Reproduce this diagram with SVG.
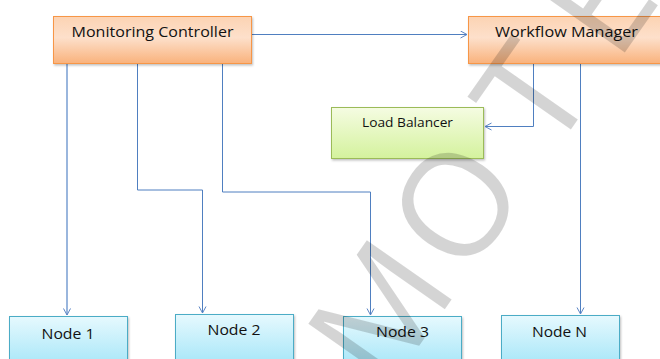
<svg xmlns="http://www.w3.org/2000/svg" width="660" height="359" viewBox="0 0 660 359">
  <defs>
    <linearGradient id="gOrange" x1="0" y1="0" x2="0" y2="1">
      <stop offset="0" stop-color="#fcd3b3"/>
      <stop offset="0.45" stop-color="#fde0cb"/>
      <stop offset="1" stop-color="#f9b27c"/>
    </linearGradient>
    <linearGradient id="gGreen" x1="0" y1="0" x2="0" y2="1">
      <stop offset="0" stop-color="#f5fce2"/>
      <stop offset="1" stop-color="#d4f29d"/>
    </linearGradient>
    <linearGradient id="gCyan" x1="0" y1="0" x2="0" y2="1">
      <stop offset="0" stop-color="#e6f9fe"/>
      <stop offset="1" stop-color="#a6e6f8"/>
    </linearGradient>
    <filter id="shadow" x="-10%" y="-10%" width="120%" height="130%">
      <feDropShadow dx="1" dy="1.5" stdDeviation="1" flood-color="#000" flood-opacity="0.25"/>
    </filter>
    <marker id="arrow" markerUnits="userSpaceOnUse" markerWidth="10" markerHeight="10" refX="7" refY="4" orient="auto">
      <path d="M0.5,0.5 L7,4 L0.5,7.5" fill="none" stroke="#5b84c4" stroke-width="1"/>
    </marker>
  </defs>
  <style>
    .orange { fill: url(#gOrange); stroke: #f79646; stroke-width: 1; filter: url(#shadow); }
    .green { fill: url(#gGreen); stroke: #9bbb59; stroke-width: 1; filter: url(#shadow); }
    .cyan { fill: url(#gCyan); stroke: #4bacc6; stroke-width: 1; filter: url(#shadow); }
    .label { font-family: "Open Sans", "Liberation Sans", sans-serif; font-size: 15px; fill: #111; text-anchor: middle; }
    .small { font-size: 13px; }
    .link { fill: none; stroke: #4f7fc0; stroke-width: 1; }
    .soft { stroke: #9ab6dd; stroke-width: 2; }
    .mark { font-family: "Open Sans", "Liberation Sans", sans-serif; font-size: 145px; fill: #000; fill-opacity: 0.17; }
  </style>

  <rect width="660" height="359" fill="#ffffff"/>

  <g id="connectors">
    <path class="link" d="M252,34.5 H467" marker-end="url(#arrow)"/>
    <path class="link soft" d="M67,64 V315" marker-end="url(#arrow)"/>
    <path class="link" d="M137.5,64 V190 H202.5 V313" marker-end="url(#arrow)"/>
    <path class="link" d="M222.5,64 V192 H370.5 V315" marker-end="url(#arrow)"/>
    <path class="link" d="M533.5,64 V126.5 H485" marker-end="url(#arrow)"/>
    <path class="link" d="M580.5,64 V314" marker-end="url(#arrow)"/>
  </g>

  <g id="monitoring-controller">
    <rect class="orange" x="53.5" y="16.5" width="198" height="47"/>
    <text class="label" x="152.5" y="37" textLength="162" lengthAdjust="spacingAndGlyphs">Monitoring Controller</text>
  </g>

  <g id="workflow-manager">
    <rect class="orange" x="468.5" y="16.5" width="196" height="47"/>
    <text class="label" x="566.5" y="37" textLength="143" lengthAdjust="spacingAndGlyphs">Workflow Manager</text>
  </g>

  <g id="load-balancer">
    <rect class="green" x="331.5" y="107.5" width="152" height="51"/>
    <text class="label small" x="407.5" y="127" textLength="91" lengthAdjust="spacingAndGlyphs">Load Balancer</text>
  </g>

  <g id="node-1">
    <rect class="cyan" x="9.5" y="316.5" width="118" height="50"/>
    <text class="label" x="68" y="339" textLength="53" lengthAdjust="spacingAndGlyphs">Node 1</text>
  </g>

  <g id="node-2">
    <rect class="cyan" x="175.5" y="314.5" width="118" height="50"/>
    <text class="label" x="234" y="335" textLength="53" lengthAdjust="spacingAndGlyphs">Node 2</text>
  </g>

  <g id="node-3">
    <rect class="cyan" x="343.5" y="316.5" width="118" height="50"/>
    <text class="label" x="402.5" y="337" textLength="53" lengthAdjust="spacingAndGlyphs">Node 3</text>
  </g>

  <g id="node-n">
    <rect class="cyan" x="501.5" y="315.5" width="118" height="50"/>
    <text class="label" x="559.5" y="337" textLength="55" lengthAdjust="spacingAndGlyphs">Node N</text>
  </g>

  <g id="watermark">
    <text class="mark" transform="translate(392,385) rotate(-55)" x="-12 128 278 392">MOTE</text>
  </g>
</svg>
